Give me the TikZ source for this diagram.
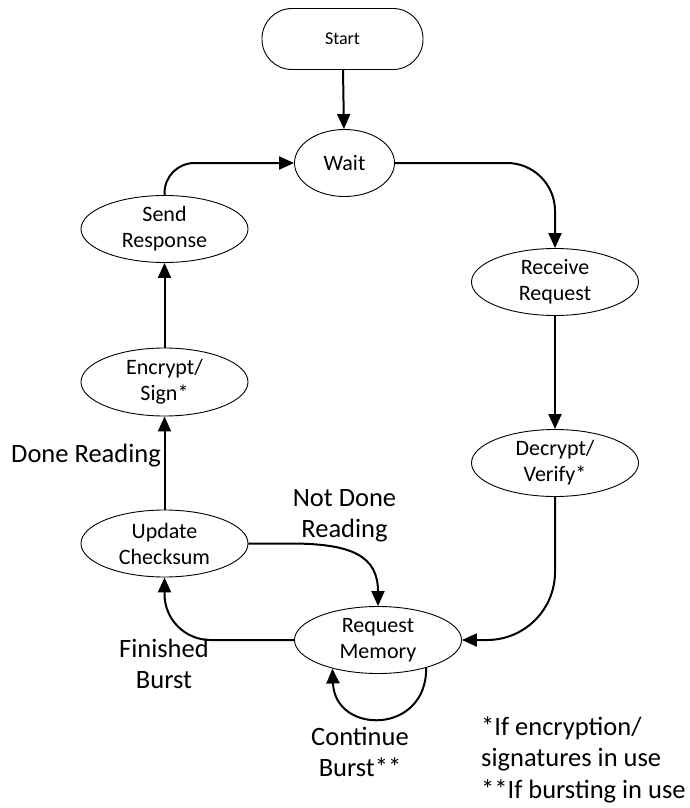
\documentclass[tikz,border=0pt]{standalone}
\usepackage{fontspec}
\setmainfont{Carlito}
\usetikzlibrary{shapes.geometric,arrows.meta}
\begin{document}
\begin{tikzpicture}[x=1pt,y=-1pt,
  state/.style={draw,ellipse,line width=0.9pt,inner sep=0pt,
    minimum width=167pt,minimum height=67pt,align=center,
    font=\fontsize{22}{26}\selectfont},
  startbox/.style={draw,rectangle,rounded corners=30pt,line width=0.9pt,
    minimum width=161pt,minimum height=61pt,inner sep=0pt,
    font=\fontsize{18}{22}\selectfont},
  flow/.style={line width=2pt,-{Triangle[length=15pt,width=13pt]}},
  lbl/.style={inner sep=0pt,align=center,font=\fontsize{26.5}{31.5}\selectfont}]
\useasboundingbox (0,0) rectangle (689,808);

% states
\node[startbox] (start) at (342.5,39) {Start};
\node[state,minimum width=100pt] (wait) at (344.5,163) {Wait};
\node[state] (recv) at (555,282) {Receive\\Request};
\node[state] (decr) at (555,463) {Decrypt/\\Verify*};
\node[state] (reqm) at (378,640) {Request\\Memory};
\node[state] (upd) at (164.5,543.5) {Update\\Checksum};
\node[state,minimum height=68pt] (enc) at (164.5,382) {Encrypt/\\Sign*};
\node[state] (send) at (164.5,229) {Send\\Response};

% transitions
\draw[flow] (start) -- (wait);
\draw[flow,rounded corners=48pt] (wait.east) -| (recv.north);
\draw[flow] (recv) -- (decr);
\draw[flow,rounded corners=68pt] (decr.south) |- (reqm.east);
\draw[flow,rounded corners=46pt] (reqm.west) -| (upd.south);
\draw[flow] (upd.east) -- (290,543.5)
  .. controls (352,543.5) and (378,556) .. (reqm.north);
\draw[flow] (upd) -- (enc);
\draw[flow] (enc) -- (send);
\draw[flow,rounded corners=30pt] (send.north) |- (wait.west);
\draw[flow] (reqm.-30) .. controls (427,735) and (335,735) .. (reqm.-148);

% transition labels
\node[lbl,anchor=base east] (ldone) at (161,462) {Done Reading};
\node[lbl] (lnot) at (344.5,516) {Not Done\\Reading};
\node[lbl] (lfin) at (164,664) {Finished\\Burst};
\node[lbl] (lcont) at (360,752) {Continue\\Burst**};

% footnotes
\node[lbl,anchor=north west,align=left] (note) at (481,716)
  {*If encryption/\\signatures in use\\**If bursting in use};
\end{tikzpicture}
\end{document}
